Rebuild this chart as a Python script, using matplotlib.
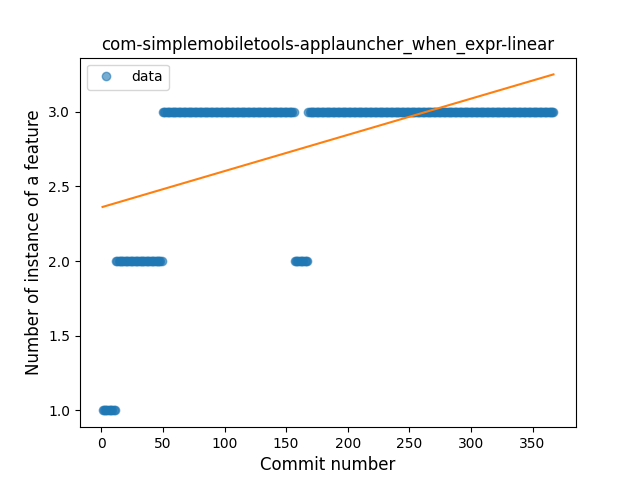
import numpy as np
import matplotlib
matplotlib.use('Agg')
from matplotlib import pyplot as plt

# runs of (value, first commit, last commit)
runs = [(1, 1, 11), (2, 12, 49), (3, 50, 156), (2, 157, 167), (3, 168, 367)]

commits = []
counts = []
for val, start, stop in runs:
    for c in range(start, stop + 1):
        commits.append(c)
        counts.append(val)
commits = np.array(commits)
counts = np.array(counts)

slope, intercept = np.polyfit(commits, counts, 1)

fig, ax = plt.subplots(figsize=(6.4, 4.8), dpi=100)
ax.plot(commits, counts, 'o', alpha=0.6, label='data')
ax.plot(commits, slope * commits + intercept, color='#ff7f0e')
ax.set_title('com-simplemobiletools-applauncher_when_expr-linear')
ax.set_xlabel('Commit number', fontsize=12)
ax.set_ylabel('Number of instance of a feature', fontsize=12)
ax.legend(loc='upper left')
fig.savefig('out.png')
